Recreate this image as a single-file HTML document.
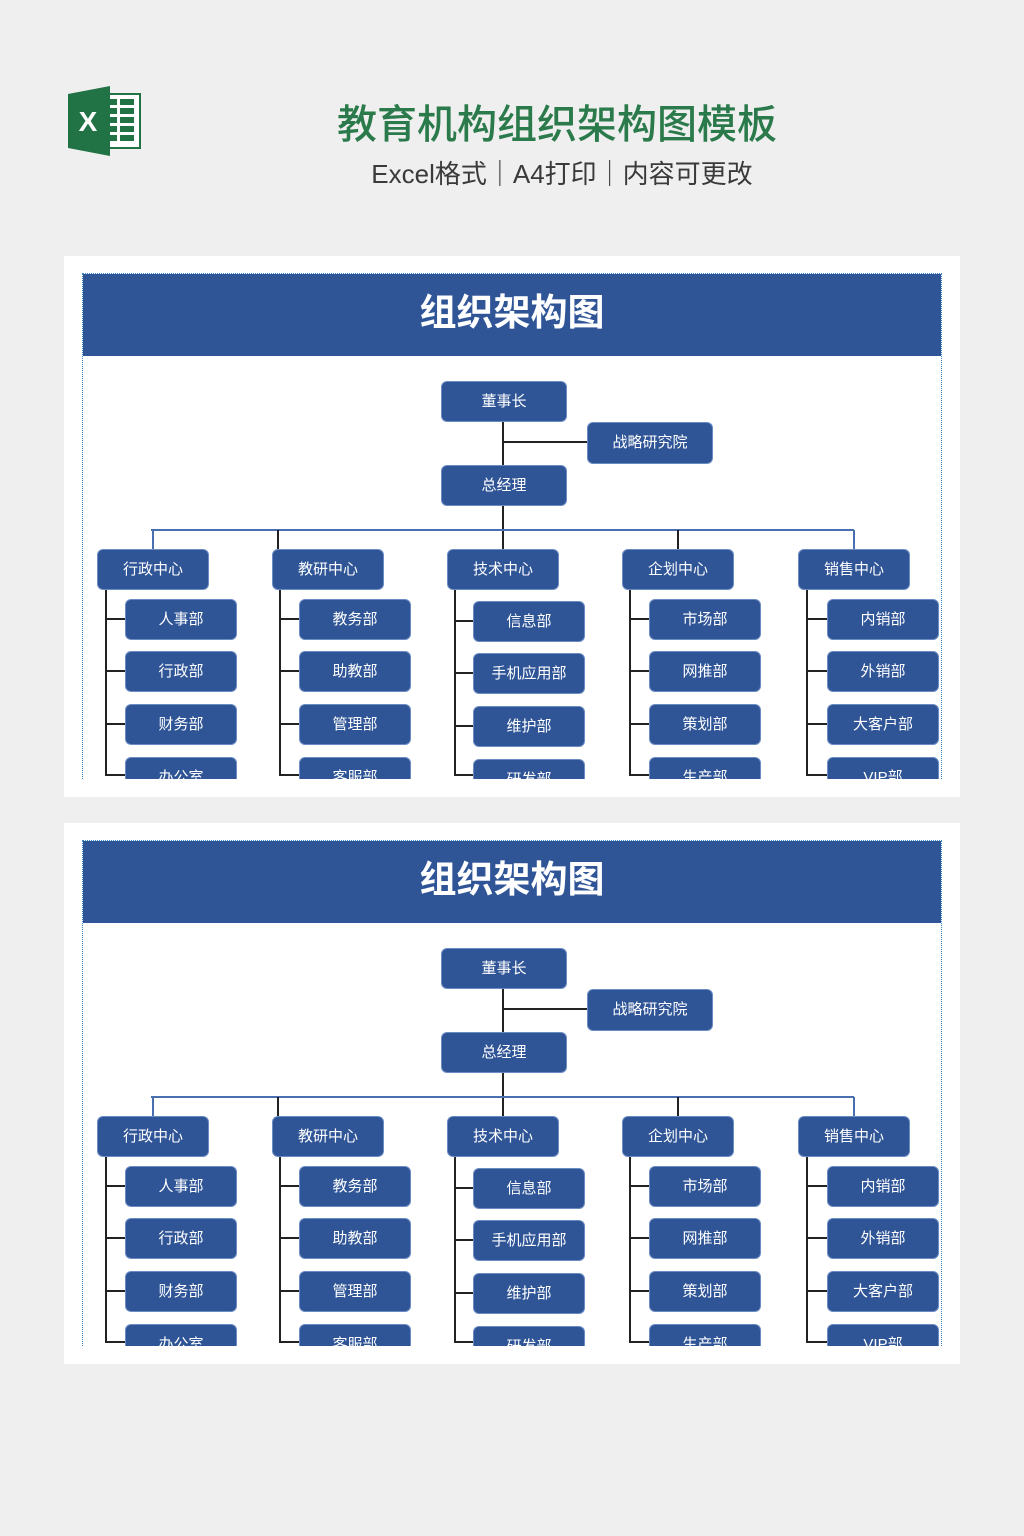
<!DOCTYPE html>
<html><head><meta charset="utf-8"><style>
*{margin:0;padding:0;box-sizing:border-box}
body{width:1024px;height:1536px;background:#efefef;position:relative;overflow:hidden;font-family:"Liberation Sans","Noto Sans CJK SC",sans-serif}
.t{position:absolute;left:0;width:1114px;text-align:center;top:92px;font-size:40px;color:#2a7a4b;font-weight:500;letter-spacing:0px}
.s{position:absolute;left:0;width:1124px;text-align:center;top:154px;font-size:26px;color:#3a3a3a}
.panel{position:absolute;left:64px;width:896px;height:541px;background:#fff}
.clip{position:absolute;left:18px;top:17px;width:860px;height:506px;overflow:hidden;border:1.5px dotted #3b86c8;border-bottom:none}
.hd{position:absolute;left:-2px;top:0;width:862px;height:82px;background:#2f5597;color:#fff;font-size:37px;font-weight:bold;text-align:center;line-height:78px}
.b{position:absolute;background:#2f5597;border:1px solid #6c8cc4;border-radius:6px;color:#fff;font-size:15px;text-align:center;width:112px;height:41px;line-height:40px}
.l{position:absolute;background:#222}
.bl{position:absolute;background:#4a6fb0}
</style></head><body>
<svg style="position:absolute;left:68px;top:86px" width="74" height="70" viewBox="0 0 74 70">
<rect x="34" y="8" width="38" height="54" fill="#fff" stroke="#217346" stroke-width="2"/>
<g fill="#217346"><rect x="40" y="13" width="9" height="6"/><rect x="52" y="13" width="14" height="6"/><rect x="40" y="22" width="9" height="6"/><rect x="52" y="22" width="14" height="6"/><rect x="40" y="31" width="9" height="6"/><rect x="52" y="31" width="14" height="6"/><rect x="40" y="40" width="9" height="6"/><rect x="52" y="40" width="14" height="6"/><rect x="40" y="49" width="9" height="6"/><rect x="52" y="49" width="14" height="6"/></g>
<polygon points="0,8 42,0 42,70 0,62" fill="#217346"/>
<text x="20" y="45" fill="#fff" font-size="28" font-weight="bold" text-anchor="middle" font-family="Liberation Sans">X</text>
</svg>
<div class="t">教育机构组织架构图模板</div>
<div class="s">Excel格式｜A4打印｜内容可更改</div>

<div class="panel" style="top:256px"><div class="clip">
<div class="hd">组织架构图</div>
<div class="l" style="left:419px;top:148px;width:2px;height:127px"></div>
<div class="l" style="left:420px;top:167px;width:84px;height:2px"></div>
<div class="bl" style="left:68px;top:255px;width:703px;height:2px"></div>
<div class="l" style="left:69px;top:256px;width:1.5px;height:19px;background:#4a6fb0"></div>
<div class="l" style="left:194px;top:256px;width:1.5px;height:19px"></div>
<div class="l" style="left:594px;top:256px;width:1.5px;height:19px"></div>
<div class="l" style="left:770px;top:256px;width:1.5px;height:19px;background:#4a6fb0"></div>
<div class="b" style="left:358px;top:107px;width:126px">董事长</div>
<div class="b" style="left:504px;top:148px;width:126px;height:42px">战略研究院</div>
<div class="b" style="left:358px;top:191px;width:126px">总经理</div>
<div class="b" style="left:14px;top:275px">行政中心</div>
<div class="b" style="left:189px;top:275px">教研中心</div>
<div class="b" style="left:364px;top:275px">技术中心</div>
<div class="b" style="left:539px;top:275px">企划中心</div>
<div class="b" style="left:715px;top:275px">销售中心</div>
<div class="l" style="left:22px;top:316px;width:2px;height:185px"></div>
<div class="l" style="left:196px;top:316px;width:2px;height:185px"></div>
<div class="l" style="left:371px;top:316px;width:2px;height:185px"></div>
<div class="l" style="left:546px;top:316px;width:2px;height:185px"></div>
<div class="l" style="left:723px;top:316px;width:2px;height:185px"></div>
<div class="l" style="left:22px;top:344px;width:20px;height:2px"></div><div class="l" style="left:22px;top:396px;width:20px;height:2px"></div><div class="l" style="left:22px;top:449px;width:20px;height:2px"></div><div class="l" style="left:22px;top:500px;width:20px;height:2px"></div>
<div class="l" style="left:196px;top:344px;width:20px;height:2px"></div><div class="l" style="left:196px;top:396px;width:20px;height:2px"></div><div class="l" style="left:196px;top:449px;width:20px;height:2px"></div><div class="l" style="left:196px;top:500px;width:20px;height:2px"></div>
<div class="l" style="left:371px;top:346px;width:20px;height:2px"></div><div class="l" style="left:371px;top:398px;width:20px;height:2px"></div><div class="l" style="left:371px;top:451px;width:20px;height:2px"></div><div class="l" style="left:371px;top:500px;width:20px;height:2px"></div>
<div class="l" style="left:546px;top:344px;width:20px;height:2px"></div><div class="l" style="left:546px;top:396px;width:20px;height:2px"></div><div class="l" style="left:546px;top:449px;width:20px;height:2px"></div><div class="l" style="left:546px;top:500px;width:20px;height:2px"></div>
<div class="l" style="left:723px;top:344px;width:21px;height:2px"></div><div class="l" style="left:723px;top:396px;width:21px;height:2px"></div><div class="l" style="left:723px;top:449px;width:21px;height:2px"></div><div class="l" style="left:723px;top:500px;width:21px;height:2px"></div>
<div class="b" style="left:42px;top:325px">人事部</div><div class="b" style="left:42px;top:377px">行政部</div><div class="b" style="left:42px;top:430px">财务部</div><div class="b" style="left:42px;top:483px">办公室</div>
<div class="b" style="left:216px;top:325px">教务部</div><div class="b" style="left:216px;top:377px">助教部</div><div class="b" style="left:216px;top:430px">管理部</div><div class="b" style="left:216px;top:483px">客服部</div>
<div class="b" style="left:390px;top:327px">信息部</div><div class="b" style="left:390px;top:379px">手机应用部</div><div class="b" style="left:390px;top:432px">维护部</div><div class="b" style="left:390px;top:485px">研发部</div>
<div class="b" style="left:566px;top:325px">市场部</div><div class="b" style="left:566px;top:377px">网推部</div><div class="b" style="left:566px;top:430px">策划部</div><div class="b" style="left:566px;top:483px">生产部</div>
<div class="b" style="left:744px;top:325px">内销部</div><div class="b" style="left:744px;top:377px">外销部</div><div class="b" style="left:744px;top:430px">大客户部</div><div class="b" style="left:744px;top:483px">VIP部</div>
</div></div>

<div class="panel" style="top:823px"><div class="clip">
<div class="hd">组织架构图</div>
<div class="l" style="left:419px;top:148px;width:2px;height:127px"></div>
<div class="l" style="left:420px;top:167px;width:84px;height:2px"></div>
<div class="bl" style="left:68px;top:255px;width:703px;height:2px"></div>
<div class="l" style="left:69px;top:256px;width:1.5px;height:19px;background:#4a6fb0"></div>
<div class="l" style="left:194px;top:256px;width:1.5px;height:19px"></div>
<div class="l" style="left:594px;top:256px;width:1.5px;height:19px"></div>
<div class="l" style="left:770px;top:256px;width:1.5px;height:19px;background:#4a6fb0"></div>
<div class="b" style="left:358px;top:107px;width:126px">董事长</div>
<div class="b" style="left:504px;top:148px;width:126px;height:42px">战略研究院</div>
<div class="b" style="left:358px;top:191px;width:126px">总经理</div>
<div class="b" style="left:14px;top:275px">行政中心</div>
<div class="b" style="left:189px;top:275px">教研中心</div>
<div class="b" style="left:364px;top:275px">技术中心</div>
<div class="b" style="left:539px;top:275px">企划中心</div>
<div class="b" style="left:715px;top:275px">销售中心</div>
<div class="l" style="left:22px;top:316px;width:2px;height:185px"></div>
<div class="l" style="left:196px;top:316px;width:2px;height:185px"></div>
<div class="l" style="left:371px;top:316px;width:2px;height:185px"></div>
<div class="l" style="left:546px;top:316px;width:2px;height:185px"></div>
<div class="l" style="left:723px;top:316px;width:2px;height:185px"></div>
<div class="l" style="left:22px;top:344px;width:20px;height:2px"></div><div class="l" style="left:22px;top:396px;width:20px;height:2px"></div><div class="l" style="left:22px;top:449px;width:20px;height:2px"></div><div class="l" style="left:22px;top:500px;width:20px;height:2px"></div>
<div class="l" style="left:196px;top:344px;width:20px;height:2px"></div><div class="l" style="left:196px;top:396px;width:20px;height:2px"></div><div class="l" style="left:196px;top:449px;width:20px;height:2px"></div><div class="l" style="left:196px;top:500px;width:20px;height:2px"></div>
<div class="l" style="left:371px;top:346px;width:20px;height:2px"></div><div class="l" style="left:371px;top:398px;width:20px;height:2px"></div><div class="l" style="left:371px;top:451px;width:20px;height:2px"></div><div class="l" style="left:371px;top:500px;width:20px;height:2px"></div>
<div class="l" style="left:546px;top:344px;width:20px;height:2px"></div><div class="l" style="left:546px;top:396px;width:20px;height:2px"></div><div class="l" style="left:546px;top:449px;width:20px;height:2px"></div><div class="l" style="left:546px;top:500px;width:20px;height:2px"></div>
<div class="l" style="left:723px;top:344px;width:21px;height:2px"></div><div class="l" style="left:723px;top:396px;width:21px;height:2px"></div><div class="l" style="left:723px;top:449px;width:21px;height:2px"></div><div class="l" style="left:723px;top:500px;width:21px;height:2px"></div>
<div class="b" style="left:42px;top:325px">人事部</div><div class="b" style="left:42px;top:377px">行政部</div><div class="b" style="left:42px;top:430px">财务部</div><div class="b" style="left:42px;top:483px">办公室</div>
<div class="b" style="left:216px;top:325px">教务部</div><div class="b" style="left:216px;top:377px">助教部</div><div class="b" style="left:216px;top:430px">管理部</div><div class="b" style="left:216px;top:483px">客服部</div>
<div class="b" style="left:390px;top:327px">信息部</div><div class="b" style="left:390px;top:379px">手机应用部</div><div class="b" style="left:390px;top:432px">维护部</div><div class="b" style="left:390px;top:485px">研发部</div>
<div class="b" style="left:566px;top:325px">市场部</div><div class="b" style="left:566px;top:377px">网推部</div><div class="b" style="left:566px;top:430px">策划部</div><div class="b" style="left:566px;top:483px">生产部</div>
<div class="b" style="left:744px;top:325px">内销部</div><div class="b" style="left:744px;top:377px">外销部</div><div class="b" style="left:744px;top:430px">大客户部</div><div class="b" style="left:744px;top:483px">VIP部</div>
</div></div>
</body></html>
